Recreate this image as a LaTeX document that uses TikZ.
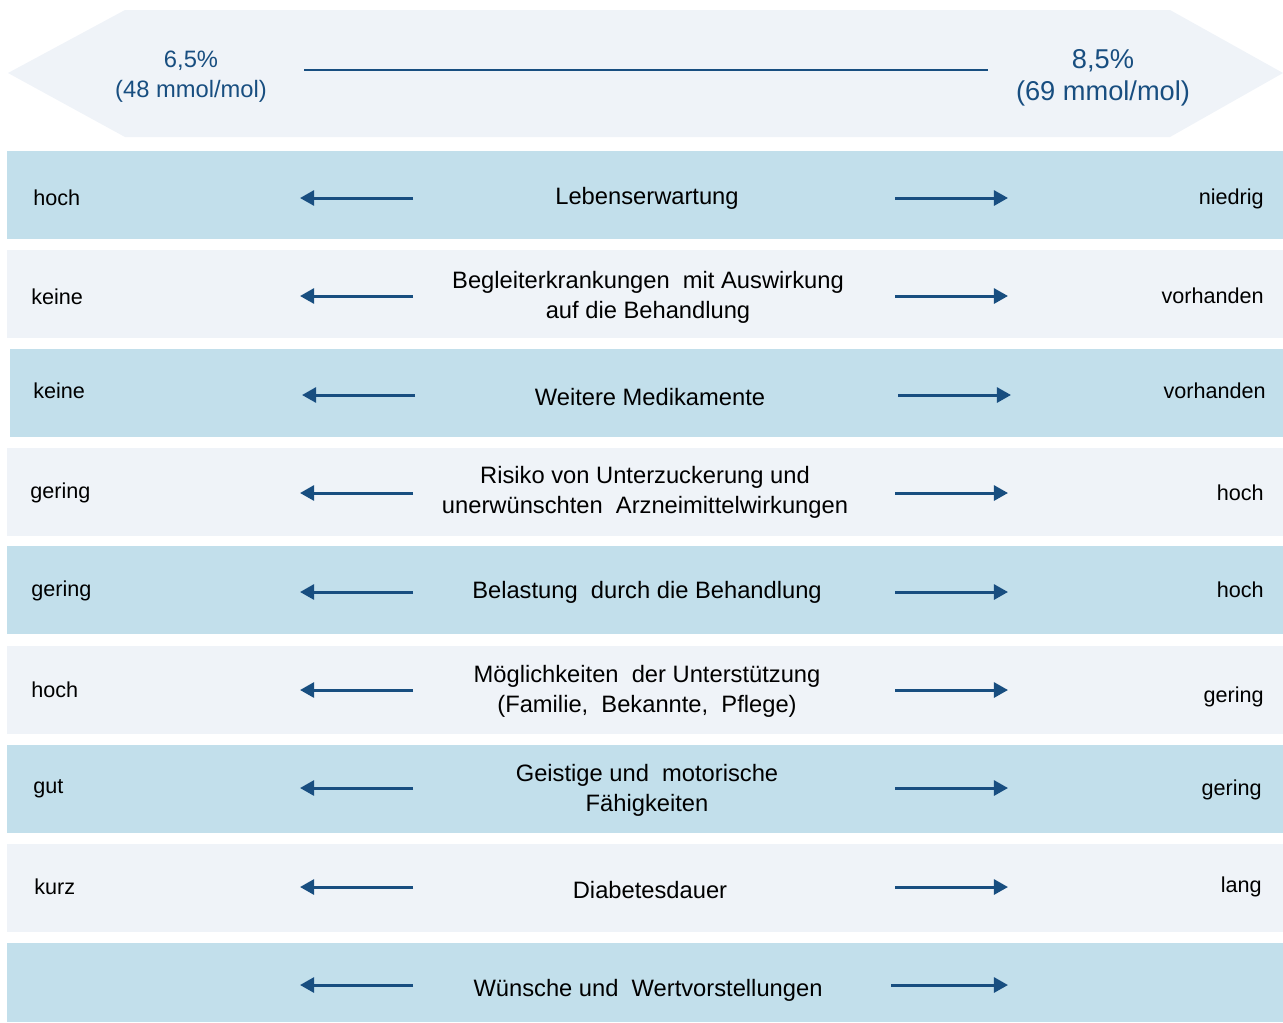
\documentclass[tikz,border=0pt]{standalone}
\usepackage{fontspec}
\setmainfont{Liberation Sans}
\usepackage{tikz}
\usetikzlibrary{arrows.meta}

\definecolor{zeileblau}{RGB}{194,223,235}
\definecolor{zeilehell}{RGB}{239,243,248}
\definecolor{dunkelblau}{RGB}{24,78,128}

\tikzset{
    links/.style={anchor=west, inner sep=0pt, font=\fontsize{12.3}{15}\selectfont},
    rechts/.style={anchor=east, inner sep=0pt, font=\fontsize{12.3}{15}\selectfont},
    mitte/.style={align=center, inner sep=0pt, font=\fontsize{13.5}{17}\selectfont},
    pfeil/.style={dunkelblau, line width=1.7pt, -{Triangle[length=8pt,width=8.5pt]}},
    wert/.style={align=center, inner sep=0pt, text=dunkelblau, font=\fontsize{13.5}{17}\selectfont}
}

\begin{document}
\begin{tikzpicture}[x=0.02cm, y=-0.02cm]
        \useasboundingbox (0, 0) rectangle (1283, 1022);

        % Zielbereich oben
        \fill[zeilehell] (8, 73) -- (125, 10) -- (1170, 10) -- (1283, 73) -- (1170, 137) -- (125, 137) -- cycle;
        \node[wert] (hba) at (191, 77) {6,5\%\\(48 mmol/mol)};
        \node[wert, font=\fontsize{15.5}{18.5}\selectfont] (hbb) at (1103, 78) {8,5\%\\(69 mmol/mol)};
        \coordinate (sa) at (304, 70);
        \coordinate (sb) at (988, 70);
        \draw[dunkelblau, line width=1.1pt] (sa) -- (sb);

        % Zeilen
        \fill[zeileblau] (7, 151) rectangle (1283, 239);
        \fill[zeilehell] (7, 250) rectangle (1283, 338);
        \fill[zeileblau] (10, 349) rectangle (1283, 437);
        \fill[zeilehell] (7, 448) rectangle (1283, 536);
        \fill[zeileblau] (7, 546) rectangle (1283, 634);
        \fill[zeilehell] (7, 646) rectangle (1283, 734);
        \fill[zeileblau] (7, 745) rectangle (1283, 833);
        \fill[zeilehell] (7, 844) rectangle (1283, 932);
        \fill[zeileblau] (7, 943) rectangle (1283, 1022);

        \node[links] (l1) at (33, 198) {hoch};
        \node[mitte] (m1) at (647, 198) {Lebenserwartung};
        \node[rechts] (r1) at (1264, 199) {niedrig};

        \node[links] (l2) at (31, 297) {keine};
        \node[mitte] (m2) at (648, 297) {Begleiterkrankungen\ \ mit Auswirkung\\auf die Behandlung};
        \node[rechts] (r2) at (1264, 296) {vorhanden};

        \node[links] (l3) at (33, 391) {keine};
        \node[mitte] (m3) at (650, 397) {Weitere Medikamente};
        \node[rechts] (r3) at (1266, 391) {vorhanden};

        \node[links] (l4) at (30, 493) {gering};
        \node[mitte] (m4) at (645, 492) {Risiko von Unterzuckerung und\\unerwünschten\ \ Arzneimittelwirkungen};
        \node[rechts] (r4) at (1264, 493) {hoch};

        \node[links] (l5) at (31, 591) {gering};
        \node[mitte] (m5) at (647, 592) {Belastung\ \ durch die Behandlung};
        \node[rechts] (r5) at (1264, 590) {hoch};

        \node[links] (l6) at (31, 690) {hoch};
        \node[mitte] (m6) at (647, 691) {Möglichkeiten\ \ der Unterstützung\\(Familie,\ \ Bekannte,\ \ Pflege)};
        \node[rechts] (r6) at (1264, 697) {gering};

        \node[links] (l7) at (33, 789) {gut};
        \node[mitte] (m7) at (647, 790) {Geistige und\ \ motorische\\Fähigkeiten};
        \node[rechts] (r7) at (1262, 790) {gering};

        \node[links] (l8) at (34, 887) {kurz};
        \node[mitte] (m8) at (650, 890) {Diabetesdauer};
        \node[rechts] (r8) at (1262, 887) {lang};

        \node[mitte] (m9) at (648, 990) {Wünsche und\ \ Wertvorstellungen};

        % Pfeile links und rechts
        \coordinate (a1) at (413, 198); \coordinate (b1) at (300, 198);
        \coordinate (c1) at (895, 198); \coordinate (d1) at (1008, 198);
        \coordinate (a2) at (413, 296); \coordinate (b2) at (300, 296);
        \coordinate (c2) at (895, 296); \coordinate (d2) at (1008, 296);
        \coordinate (a3) at (415, 395); \coordinate (b3) at (302, 395);
        \coordinate (c3) at (898, 395); \coordinate (d3) at (1011, 395);
        \coordinate (a4) at (413, 493); \coordinate (b4) at (300, 493);
        \coordinate (c4) at (895, 493); \coordinate (d4) at (1008, 493);
        \coordinate (a5) at (413, 592); \coordinate (b5) at (300, 592);
        \coordinate (c5) at (895, 592); \coordinate (d5) at (1008, 592);
        \coordinate (a6) at (413, 690); \coordinate (b6) at (300, 690);
        \coordinate (c6) at (895, 690); \coordinate (d6) at (1008, 690);
        \coordinate (a7) at (413, 788); \coordinate (b7) at (300, 788);
        \coordinate (c7) at (895, 788); \coordinate (d7) at (1008, 788);
        \coordinate (a8) at (413, 887); \coordinate (b8) at (300, 887);
        \coordinate (c8) at (895, 887); \coordinate (d8) at (1008, 887);
        \coordinate (a9) at (413, 985); \coordinate (b9) at (300, 985);
        \coordinate (c9) at (891, 985); \coordinate (d9) at (1008, 985);

        \draw[pfeil] (a1) -- (b1); \draw[pfeil] (c1) -- (d1);
        \draw[pfeil] (a2) -- (b2); \draw[pfeil] (c2) -- (d2);
        \draw[pfeil] (a3) -- (b3); \draw[pfeil] (c3) -- (d3);
        \draw[pfeil] (a4) -- (b4); \draw[pfeil] (c4) -- (d4);
        \draw[pfeil] (a5) -- (b5); \draw[pfeil] (c5) -- (d5);
        \draw[pfeil] (a6) -- (b6); \draw[pfeil] (c6) -- (d6);
        \draw[pfeil] (a7) -- (b7); \draw[pfeil] (c7) -- (d7);
        \draw[pfeil] (a8) -- (b8); \draw[pfeil] (c8) -- (d8);
        \draw[pfeil] (a9) -- (b9); \draw[pfeil] (c9) -- (d9);
\end{tikzpicture}
\end{document}
